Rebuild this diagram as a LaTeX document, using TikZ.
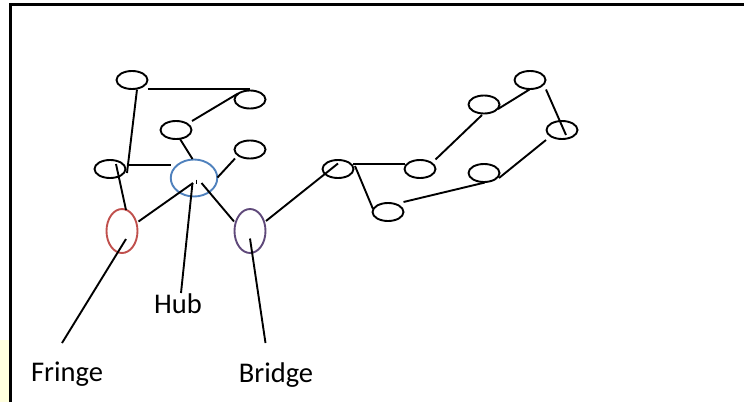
\documentclass[tikz,border=0pt]{standalone}
\usepackage{fontspec}
\setmainfont{Carlito}
\usetikzlibrary{shapes.geometric,calc}
\definecolor{hubblue}{RGB}{79,129,189}
\definecolor{fringered}{RGB}{192,80,77}
\definecolor{bridgepurple}{RGB}{95,73,122}
\definecolor{paleyellow}{RGB}{255,255,222}
\tikzset{
  ell/.style={draw, ellipse, inner sep=0pt, line width=1.9pt, minimum width=31, minimum height=18},
  bigv/.style={draw, ellipse, inner sep=0pt, line width=1.9pt, minimum width=31, minimum height=44},
  hubell/.style={draw=hubblue, ellipse, inner sep=0pt, line width=1.9pt, minimum width=46.5, minimum height=37},
  edge/.style={line width=1.9pt},
  frame/.style={line width=2.4pt},
  lbl/.style={inner sep=0pt, anchor=base, font=\fontsize{28.5}{30}\selectfont}
}
\begin{document}
\begin{tikzpicture}[x=1pt,y=-1pt]
\useasboundingbox (0,0) rectangle (744,402);
% pale yellow strip and frame
\fill[paleyellow] (0,340) rectangle (9.3,402);
\draw[frame] (10.5,402) -- (10.5,4.5) -- (744,4.5);
% nodes
\node[ell] (A) at (132,80) {};
\node[ell] (B) at (250,99.5) {};
\node[ell] (C) at (176,130) {};
\node[ell] (D) at (250,149.5) {};
\node[ell] (E) at (110,169) {};
\node[hubell] (Hub) at (194,178) {};
\node[bigv, draw=fringered] (Fr) at (122,231) {};
\node[bigv, draw=bridgepurple] (Br) at (250,231) {};
\node[ell] (F) at (338,169) {};
\node[ell] (G) at (420,169) {};
\node[ell] (H) at (388,212) {};
\node[ell] (I) at (484,104.5) {};
\node[ell] (J) at (530,80) {};
\node[ell] (K) at (562,130) {};
\node[ell] (L) at (484,173) {};
% edges
\draw[edge] ($(A)+(5,9.5)$) -- ($(E)+(17,4)$);
\draw[edge] ($(A)+(15.5,9)$) -- ($(B)+(0,-10.5)$);
\draw[edge] ($(B)+(-12,-6)$) -- ($(C)+(16,-9)$);
\draw[edge] ($(C)+(4,9)$) -- ($(Hub)+(-1.5,-19)$);
\draw[edge] ($(D)+(-15,9)$) -- ($(Hub)+(23.5,-0.5)$);
\draw[edge] ($(E)+(16.5,-4)$) -- ($(Hub)+(-23.5,-13)$);
\draw[edge] ($(E)+(6,-5)$) -- ($(Fr)+(4,-21)$);
\draw[edge] ($(Fr)+(16.5,-9.5)$) -- ($(Hub)+(-1,5)$);
\draw[edge] ($(Hub)+(7.5,5)$) -- ($(Br)+(-16,-9.5)$);
\draw[edge, line width=1pt] ($(Hub)+(2.5,1.5)$) -- ($(Hub)+(2.5,6)$);
\draw[edge] ($(Br)+(16,-10)$) -- ($(F)+(0,-5.5)$);
\draw[edge] ($(F)+(15,-5)$) -- ($(G)+(-15.5,-5)$);
\draw[edge] ($(F)+(17,-3)$) -- ($(H)+(-15,-3)$);
\draw[edge] ($(G)+(15.5,-9.5)$) -- ($(I)+(-2,10.5)$);
\draw[edge] ($(I)+(14,4.5)$) -- ($(J)+(-0.5,9.5)$);
\draw[edge] ($(J)+(16,9.5)$) -- ($(K)+(4,5)$);
\draw[edge] ($(K)+(-16,10)$) -- ($(L)+(15,5)$);
\draw[edge] ($(L)+(1,9.5)$) -- ($(H)+(15.5,-10)$);
% labels
\coordinate (hubend) at (181,293);
\coordinate (frend) at (62,343);
\coordinate (brend) at (265.5,343);
\draw[edge] ($(Hub)+(-1.5,5)$) -- (hubend);
\draw[edge] ($(Fr)+(4,8)$) -- (frend);
\draw[edge] ($(Br)+(0,7.5)$) -- (brend);
\node[lbl] (hubtxt) at (178,313) {Hub};
\node[lbl] (frtxt) at (67,381) {Fringe};
\node[lbl] (brtxt) at (276,382) {Bridge};
\end{tikzpicture}
\end{document}
